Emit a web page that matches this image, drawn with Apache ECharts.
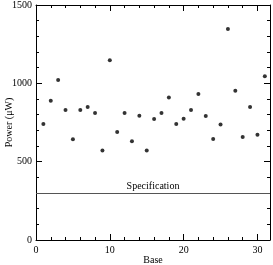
<!DOCTYPE html>
<html>
<head>
<meta charset="utf-8">
<script src="https://cdn.jsdelivr.net/npm/echarts@6/dist/echarts.min.js"></script>
<style>
html,body{margin:0;padding:0;background:#fff;}
#c{width:273px;height:265px;}
</style>
</head>
<body>
<div id="c"></div>
<script>
const bases = [1,2,3,4,5,6,7,8,9,10,11,12,13,14,15,16,17,18,19,20,21,22,23,24,25,26,27,28,29,30,31];
const power = [740,889,1021,830,643,830,849,810,572,1147,689,810,630,793,572,772,810,910,740,774,830,932,791,645,738,1347,953,657,849,672,1045];
const specValue = 300;
const specLabel = 'Specification';
const xTicks = [0,10,20,30];
const yTicks = [0,500,1000,1500];

const font = 'Liberation Serif';
const chart = echarts.init(document.getElementById('c'), null, {renderer:'canvas'});
const tickStyle = {show:true, inside:true, length:6, lineStyle:{color:'#000', width:1}};
const minorStyle = {show:true, splitNumber:5, length:3, lineStyle:{color:'#000', width:1}};
const xRange = {min:0, max:31.7, interval:10};
const yRange = {min:0, max:1500, interval:500};
chart.setOption({
  animation:false,
  grid:{left:36, top:5, right:3, bottom:25, containLabel:false, outerBoundsMode:'none'},
  xAxis:[{
    type:'value', ...xRange, position:'bottom',
    name:'Base', nameLocation:'middle', nameGap:15, nameMoveOverlap:false,
    nameTextStyle:{fontFamily:font, fontSize:10, color:'#000'},
    axisLine:{show:true, onZero:false, lineStyle:{color:'#000', width:1}},
    axisTick:tickStyle, minorTick:minorStyle,
    axisLabel:{fontFamily:font, fontSize:10, color:'#000', margin:5,
      formatter:v => xTicks.includes(v) ? String(v) : ''},
    splitLine:{show:false}
  },{
    type:'value', ...xRange, position:'top',
    axisLine:{show:true, onZero:false, lineStyle:{color:'#000', width:1}},
    axisTick:tickStyle, minorTick:minorStyle,
    axisLabel:{show:false}, splitLine:{show:false}
  }],
  yAxis:[{
    type:'value', ...yRange, position:'left',
    name:'Power (μW)', nameLocation:'middle', nameGap:22, nameMoveOverlap:false,
    nameTextStyle:{fontFamily:font, fontSize:10, color:'#000'},
    axisLine:{show:true, onZero:false, lineStyle:{color:'#000', width:1}},
    axisTick:tickStyle, minorTick:minorStyle,
    axisLabel:{fontFamily:font, fontSize:10, color:'#000', margin:4,
      formatter:v => yTicks.includes(v) ? String(v) : ''},
    splitLine:{show:false}
  },{
    type:'value', ...yRange, position:'right',
    axisLine:{show:true, onZero:false, lineStyle:{color:'#000', width:1}},
    axisTick:tickStyle, minorTick:minorStyle,
    axisLabel:{show:false}, splitLine:{show:false}
  }],
  series:[{
    type:'scatter', xAxisIndex:0, yAxisIndex:0,
    data:bases.map((b,i)=>[b, power[i]]),
    symbol:'circle', symbolSize:4,
    itemStyle:{color:'#000'},
    markLine:{
      silent:true, symbol:['none','none'],
      lineStyle:{color:'#555', width:1, type:'solid'},
      label:{show:true, position:'insideMiddleTop', formatter:specLabel,
        fontFamily:font, fontSize:10, color:'#000', distance:2},
      data:[{yAxis:specValue}]
    }
  }]
});
</script>
</body>
</html>
